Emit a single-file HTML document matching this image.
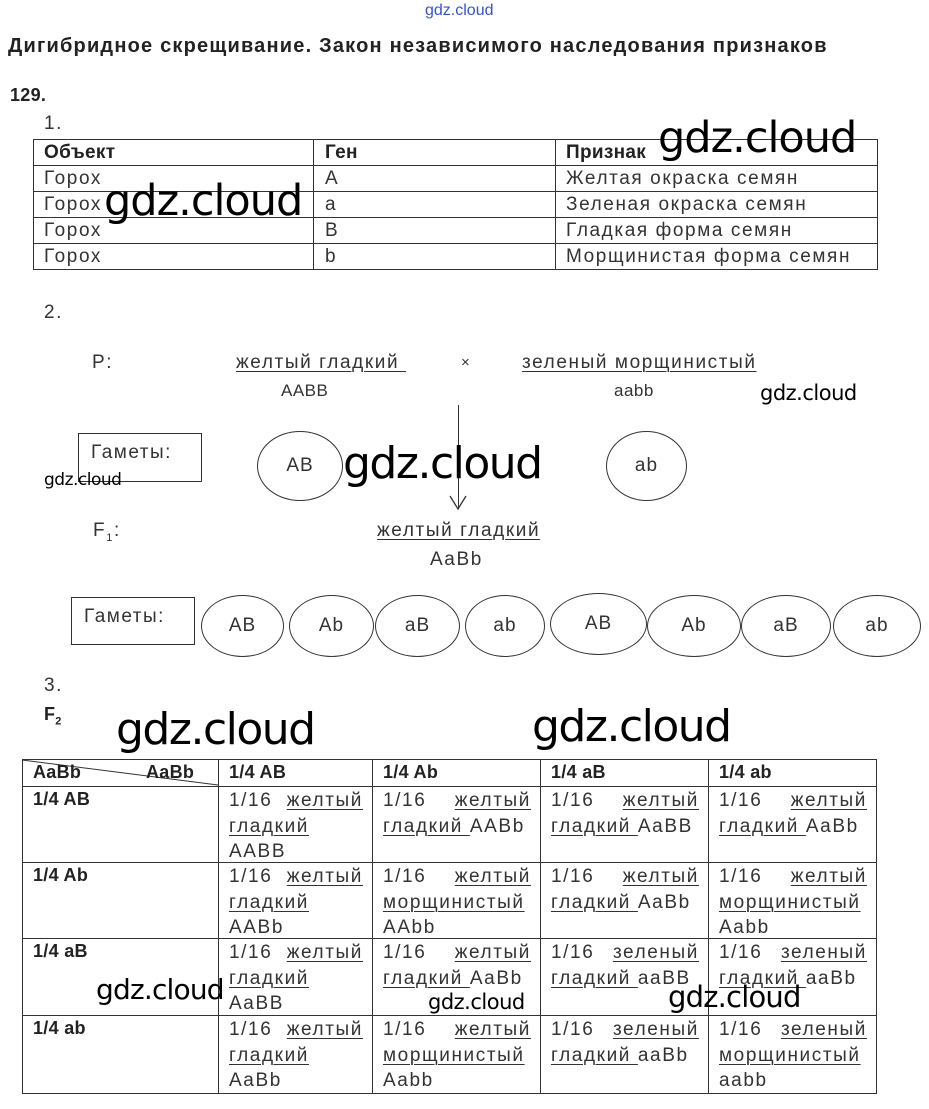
<!DOCTYPE html>
<html><head><meta charset="utf-8"><style>
body{margin:0;width:929px;height:1109px;background:#fff;position:relative;overflow:hidden;font-family:"Liberation Sans",sans-serif;color:#333}
.a{position:absolute;white-space:nowrap}
.t{font-size:19px;letter-spacing:1.6px}
.b{font-weight:bold;color:#222;letter-spacing:0.3px}
.w{position:absolute;font-family:"DejaVu Sans","Liberation Sans",sans-serif;color:#000;white-space:nowrap;letter-spacing:-1px}
.hl{position:absolute;background:#333;height:1px}
.vl{position:absolute;background:#333;width:1px}
.el{position:absolute;border:1.3px solid #333;border-radius:50%;display:flex;align-items:center;justify-content:center;font-size:19px;box-sizing:border-box;letter-spacing:1px}
.box{position:absolute;border:1px solid #333;box-sizing:border-box;font-size:19px;padding:8px 0 0 12px;letter-spacing:1.5px}
.c{position:absolute;font-size:19px;line-height:25.5px;letter-spacing:1.6px}
.c .l1{display:flex;justify-content:space-between}
u{text-decoration:underline;text-underline-offset:3px;text-decoration-thickness:1px}
</style></head><body>
<div class="a" style="left:425px;top:2px;font-size:16px;color:#3355cc">gdz.cloud</div>
<div class="a" style="left:8px;top:35px;font-size:20px;font-weight:bold;color:#222;letter-spacing:1.2px">Дигибридное скрещивание. Закон независимого наследования признаков</div>
<div class="a b" style="left:10px;top:85px;font-size:18px">129.</div>
<div class="a t" style="left:44px;top:113px">1.</div>

<!-- table 1 -->
<div class="hl" style="left:33px;top:139px;width:845px"></div>
<div class="hl" style="left:33px;top:165px;width:845px"></div>
<div class="hl" style="left:33px;top:191px;width:845px"></div>
<div class="hl" style="left:33px;top:217px;width:845px"></div>
<div class="hl" style="left:33px;top:243px;width:845px"></div>
<div class="hl" style="left:33px;top:269px;width:845px"></div>
<div class="vl" style="left:33px;top:139px;height:130px"></div>
<div class="vl" style="left:313px;top:139px;height:130px"></div>
<div class="vl" style="left:555px;top:139px;height:130px"></div>
<div class="vl" style="left:877px;top:139px;height:130px"></div>
<div class="a t b" style="left:44px;top:142px">Объект</div>
<div class="a t b" style="left:325px;top:142px">Ген</div>
<div class="a t b" style="left:566px;top:142px">Признак</div>
<div class="a t" style="left:44px;top:168px">Горох</div><div class="a t" style="left:325px;top:168px">A</div><div class="a t" style="left:566px;top:168px">Желтая окраска семян</div>
<div class="a t" style="left:44px;top:194px">Горох</div><div class="a t" style="left:325px;top:194px">a</div><div class="a t" style="left:566px;top:194px">Зеленая окраска семян</div>
<div class="a t" style="left:44px;top:220px">Горох</div><div class="a t" style="left:325px;top:220px">B</div><div class="a t" style="left:566px;top:220px">Гладкая форма семян</div>
<div class="a t" style="left:44px;top:246px">Горох</div><div class="a t" style="left:325px;top:246px">b</div><div class="a t" style="left:566px;top:246px">Морщинистая форма семян</div>
<div class="w" style="left:658px;top:113px;font-size:43px">gdz.cloud</div>
<div class="w" style="left:104px;top:176px;font-size:43px">gdz.cloud</div>

<div class="a t" style="left:44px;top:302px">2.</div>
<div class="a t" style="left:92px;top:352px">P:</div>
<div class="a t" style="left:236px;top:352px"><u>желтый гладкий&nbsp;</u></div>
<div class="a" style="left:281px;top:381px;font-size:17px;letter-spacing:0.5px">AABB</div>
<div class="a" style="left:461px;top:354px;font-size:15px">×</div>
<div class="a t" style="left:522px;top:352px"><u>зеленый морщинистый</u></div>
<div class="a" style="left:614px;top:381px;font-size:17px;letter-spacing:0.5px">aabb</div>
<div class="w" style="left:760px;top:381px;font-size:21px;letter-spacing:-0.5px">gdz.cloud</div>

<div class="box" style="left:78px;top:433px;width:124px;height:49px">Гаметы:</div>
<div class="w" style="left:44px;top:470px;font-size:17px;letter-spacing:-0.5px">gdz.cloud</div>
<div class="el" style="left:257px;top:431px;width:86px;height:70px">AB</div>
<div class="el" style="left:606px;top:431px;width:81px;height:70px">ab</div>
<div class="vl" style="left:458px;top:405px;height:104px"></div>
<svg class="a" style="left:448px;top:494px" width="20" height="18"><path d="M2 2 L10 15 L18 2" fill="none" stroke="#333" stroke-width="1.3"/></svg>
<div class="w" style="left:343px;top:438px;font-size:44px;letter-spacing:-1.5px">gdz.cloud</div>
<div class="a t" style="left:93px;top:520px">F<sub style="font-size:11px">1</sub>:</div>
<div class="a t" style="left:377px;top:520px"><u>желтый гладкий</u></div>
<div class="a t" style="left:430px;top:549px">AaBb</div>

<div class="box" style="left:71px;top:597px;width:124px;height:48px">Гаметы:</div>
<div class="el" style="left:201px;top:595px;width:83px;height:62px">AB</div>
<div class="el" style="left:289px;top:595px;width:85px;height:62px">Ab</div>
<div class="el" style="left:375px;top:595px;width:85px;height:62px">aB</div>
<div class="el" style="left:465px;top:595px;width:80px;height:62px">ab</div>
<div class="el" style="left:550px;top:593px;width:97px;height:62px">AB</div>
<div class="el" style="left:647px;top:595px;width:94px;height:62px">Ab</div>
<div class="el" style="left:741px;top:595px;width:90px;height:62px">aB</div>
<div class="el" style="left:833px;top:595px;width:88px;height:62px">ab</div>

<div class="a t" style="left:44px;top:675px">3.</div>
<div class="a b" style="left:44px;top:704px;font-size:18px">F<sub style="font-size:11px">2</sub></div>
<div class="w" style="left:116px;top:704px;font-size:44px;letter-spacing:-1.5px">gdz.cloud</div>
<div class="w" style="left:532px;top:701px;font-size:44px;letter-spacing:-1.5px">gdz.cloud</div>

<!-- table 3 -->
<div class="hl" style="left:22px;top:759px;width:855px"></div>
<div class="hl" style="left:22px;top:786px;width:855px"></div>
<div class="hl" style="left:22px;top:862px;width:855px"></div>
<div class="hl" style="left:22px;top:938px;width:855px"></div>
<div class="hl" style="left:22px;top:1015px;width:855px"></div>
<div class="hl" style="left:22px;top:1093px;width:855px"></div>
<div class="vl" style="left:22px;top:759px;height:334px"></div>
<div class="vl" style="left:218px;top:759px;height:334px"></div>
<div class="vl" style="left:372px;top:759px;height:334px"></div>
<div class="vl" style="left:540px;top:759px;height:334px"></div>
<div class="vl" style="left:708px;top:759px;height:334px"></div>
<div class="vl" style="left:876px;top:759px;height:334px"></div>
<svg class="a" style="left:22px;top:759px" width="197" height="28"><line x1="0" y1="1" x2="196" y2="26" stroke="#333" stroke-width="1"/></svg>
<div class="a b" style="left:33px;top:762px;font-size:18px">AaBb</div>
<div class="a b" style="left:146px;top:762px;font-size:18px">AaBb</div>
<div class="a b" style="left:229px;top:762px;font-size:18px">1/4 AB</div>
<div class="a b" style="left:383px;top:762px;font-size:18px">1/4 Ab</div>
<div class="a b" style="left:551px;top:762px;font-size:18px">1/4 aB</div>
<div class="a b" style="left:719px;top:762px;font-size:18px">1/4 ab</div>
<div class="a b" style="left:33px;top:789px;font-size:18px">1/4 AB</div>
<div class="a b" style="left:33px;top:865px;font-size:18px">1/4 Ab</div>
<div class="a b" style="left:33px;top:941px;font-size:18px">1/4 aB</div>
<div class="a b" style="left:33px;top:1018px;font-size:18px">1/4 ab</div>

<!-- row 1 -->
<div class="c" style="left:229px;top:788px;width:134px"><div class="l1"><span>1/16</span><u>желтый</u></div><u>гладкий</u><br>AABB</div>
<div class="c" style="left:383px;top:788px;width:148px"><div class="l1"><span>1/16</span><u>желтый</u></div><u>гладкий </u>AABb</div>
<div class="c" style="left:551px;top:788px;width:148px"><div class="l1"><span>1/16</span><u>желтый</u></div><u>гладкий </u>AaBB</div>
<div class="c" style="left:719px;top:788px;width:148px"><div class="l1"><span>1/16</span><u>желтый</u></div><u>гладкий </u>AaBb</div>
<!-- row 2 -->
<div class="c" style="left:229px;top:864px;width:134px"><div class="l1"><span>1/16</span><u>желтый</u></div><u>гладкий</u><br>AABb</div>
<div class="c" style="left:383px;top:864px;width:148px"><div class="l1"><span>1/16</span><u>желтый</u></div><u>морщинистый</u><br>AAbb</div>
<div class="c" style="left:551px;top:864px;width:148px"><div class="l1"><span>1/16</span><u>желтый</u></div><u>гладкий </u>AaBb</div>
<div class="c" style="left:719px;top:864px;width:148px"><div class="l1"><span>1/16</span><u>желтый</u></div><u>морщинистый</u><br>Aabb</div>
<!-- row 3 -->
<div class="c" style="left:229px;top:940px;width:134px"><div class="l1"><span>1/16</span><u>желтый</u></div><u>гладкий</u><br>AaBB</div>
<div class="c" style="left:383px;top:940px;width:148px"><div class="l1"><span>1/16</span><u>желтый</u></div><u>гладкий </u>AaBb</div>
<div class="c" style="left:551px;top:940px;width:148px"><div class="l1"><span>1/16</span><u>зеленый</u></div><u>гладкий </u>aaBB</div>
<div class="c" style="left:719px;top:940px;width:148px"><div class="l1"><span>1/16</span><u>зеленый</u></div><u>гладкий </u>aaBb</div>
<!-- row 4 -->
<div class="c" style="left:229px;top:1017px;width:134px"><div class="l1"><span>1/16</span><u>желтый</u></div><u>гладкий</u><br>AaBb</div>
<div class="c" style="left:383px;top:1017px;width:148px"><div class="l1"><span>1/16</span><u>желтый</u></div><u>морщинистый</u><br>Aabb</div>
<div class="c" style="left:551px;top:1017px;width:148px"><div class="l1"><span>1/16</span><u>зеленый</u></div><u>гладкий </u>aaBb</div>
<div class="c" style="left:719px;top:1017px;width:148px"><div class="l1"><span>1/16</span><u>зеленый</u></div><u>морщинистый</u><br>aabb</div>

<div class="w" style="left:96px;top:973px;font-size:28px;letter-spacing:-0.8px">gdz.cloud</div>
<div class="w" style="left:428px;top:990px;font-size:21px;letter-spacing:-0.5px">gdz.cloud</div>
<div class="w" style="left:668px;top:980px;font-size:29px;letter-spacing:-0.8px">gdz.cloud</div>
</body></html>
